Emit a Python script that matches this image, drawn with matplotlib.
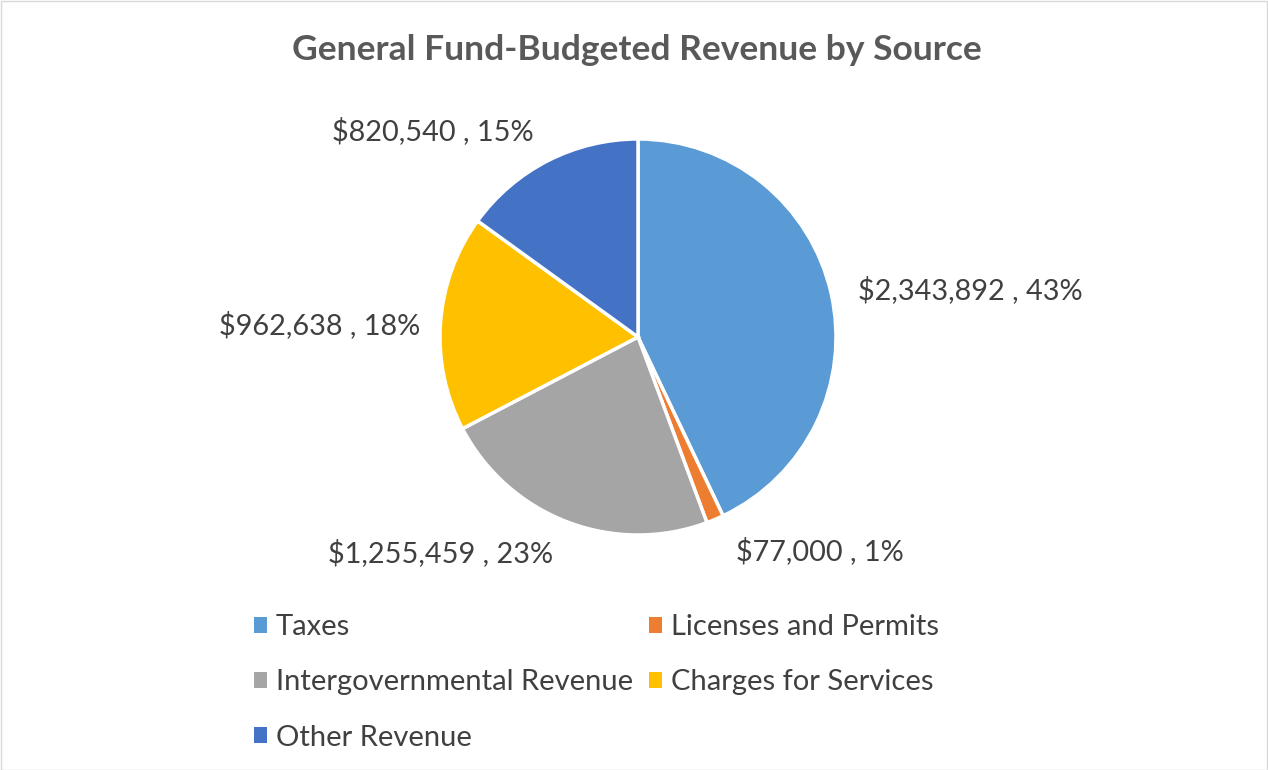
import matplotlib
matplotlib.use("Agg")
import matplotlib.pyplot as plt
from matplotlib.patches import Patch, Rectangle

categories = ["Taxes", "Licenses and Permits", "Intergovernmental Revenue",
              "Charges for Services", "Other Revenue"]
values = [2343892, 77000, 1255459, 962638, 820540]
percents = ["43%", "1%", "23%", "18%", "15%"]
colors = ["#5B9BD5", "#ED7D31", "#A5A5A5", "#FFC000", "#4472C4"]
title = "General Fund-Budgeted Revenue by Source"

plt.rcParams['font.family'] = ['Lato', 'DejaVu Sans']

W, H = 1268, 770
fig = plt.figure(figsize=(W / 100, H / 100), dpi=100)
fig.patch.set_facecolor("white")

cx, cy, r = 638, 337, 198
ax = fig.add_axes([(cx - r) / W, (H - cy - r) / H, 2 * r / W, 2 * r / H])
wedges, _ = ax.pie(values, colors=colors, startangle=90, counterclock=False,
                   radius=1, wedgeprops=dict(edgecolor="white", linewidth=2.5))
ax.set_xlim(-1.0, 1.0)
ax.set_ylim(-1.0, 1.0)
ax.set_aspect("equal")
ax.axis("off")

# data labels (pixel centres)
label_pos = [(970, 290), (820, 551), (441, 553), (320, 325), (433, 131)]
for v, p, (px, py) in zip(values, percents, label_pos):
    fig.text(px / W, 1 - py / H, f"${v:,} , {p}", ha="center", va="center",
             fontsize=20.8, color="#404040")

fig.text(637 / W, 1 - 50 / H, title, ha="center", va="center",
         fontsize=25.5, fontweight="bold", color="#595959")

handles = [Patch(facecolor=c, edgecolor="none") for c in colors]
order = [0, 2, 4, 1, 3]
leg = fig.legend([handles[i] for i in order], [categories[i] for i in order],
                 ncol=2, loc="upper left",
                 bbox_to_anchor=(228 / W, 1 - 588 / H),
                 frameon=False, fontsize=21, labelcolor="#404040",
                 handlelength=0.45, handleheight=0.45, handletextpad=0.3,
                 columnspacing=0.55, labelspacing=1.0)

fig.add_artist(Rectangle((0.5 / W, 0.5 / H), 1 - 1.5 / W, 1 - 1.5 / H,
                         transform=fig.transFigure, fill=False,
                         edgecolor="#D9D9D9", linewidth=1))

fig.savefig("out.png", dpi=100)
